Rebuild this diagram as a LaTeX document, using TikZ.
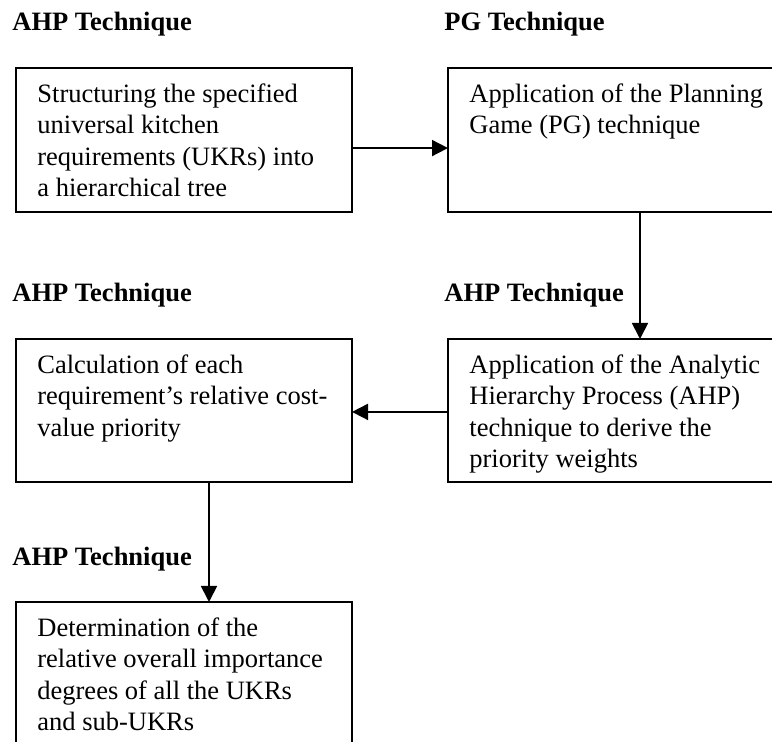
\documentclass[tikz,border=0pt]{standalone}
\usepackage{fontspec}
\setmainfont{Liberation Serif}
\usetikzlibrary{arrows.meta,calc}
\begin{document}
\begin{tikzpicture}[x=0.5pt,y=-0.5pt,
  box/.style={draw, line width=0.9pt, rectangle, inner sep=0pt, outer sep=0pt, anchor=north west},
  boxtext/.style={anchor=north west, inner sep=0pt, align=left,
    font=\fontsize{13.25}{15.65}\selectfont},
  heading/.style={anchor=base west, inner sep=0pt,
    font=\fontsize{13.25}{15.65}\selectfont\bfseries},
  arr/.style={line width=0.9pt, -{Triangle[length=8pt,width=8pt]}}]
\useasboundingbox (0,0) rectangle (772,742);
\clip (0,0) rectangle (772,742);

% headings
\node[heading] (h1) at (12,31)  {AHP Technique};
\node[heading] (h2) at (444,31) {PG Technique};
\node[heading] (h3) at (12,302) {AHP Technique};
\node[heading] (h4) at (444,302) {AHP Technique};
\node[heading] (h5) at (12,566) {AHP Technique};

% process boxes
\node[box, minimum width=168pt, minimum height=72pt] (b1) at (16,68) {};
\node[box, minimum width=180pt, minimum height=72pt] (b2) at (448,68) {};
\node[box, minimum width=180pt, minimum height=71.5pt] (b3) at (448,339) {};
\node[box, minimum width=168pt, minimum height=71.5pt] (b4) at (16,339) {};
\node[box, minimum width=168pt, minimum height=90pt] (b5) at (16,602) {};

% box texts
\node[boxtext] (t1) at ([xshift=10.5pt,yshift=-6.05pt]b1.north west)
  {\strut Structuring the specified\\universal kitchen\\requirements (UKRs) into\\a hierarchical tree};
\node[boxtext] (t2) at ([xshift=10.5pt,yshift=-6.05pt]b2.north west)
  {\strut Application of the Planning\\Game (PG) technique};
\node[boxtext] (t3) at ([xshift=10.5pt,yshift=-6.05pt]b3.north west)
  {\strut Application of the Analytic\\Hierarchy Process (AHP)\\technique to derive the\\priority weights};
\node[boxtext] (t4) at ([xshift=10.5pt,yshift=-6.05pt]b4.north west)
  {\strut Calculation of each\\requirement’s relative cost-\\value priority};
\node[boxtext] (t5) at ([xshift=10.5pt,yshift=-6.05pt]b5.north west)
  {\strut Determination of the\\relative overall importance\\degrees of all the UKRs\\and sub-UKRs};

% connectors
\draw[arr] ($(b1.north east)!0.556!(b1.south east)$) coordinate (a1)
  -- (a1 -| b2.west);
\draw[arr] (b2.south west) ++(192,0) coordinate (a2) -- (a2 |- b3.north);
\draw[arr] ($(b3.north west)!0.51!(b3.south west)$) coordinate (a3)
  -- (a3 -| b4.east);
\draw[arr] (b4.south west) ++(193,0) coordinate (a4) -- (a4 |- b5.north);
\end{tikzpicture}
\end{document}
